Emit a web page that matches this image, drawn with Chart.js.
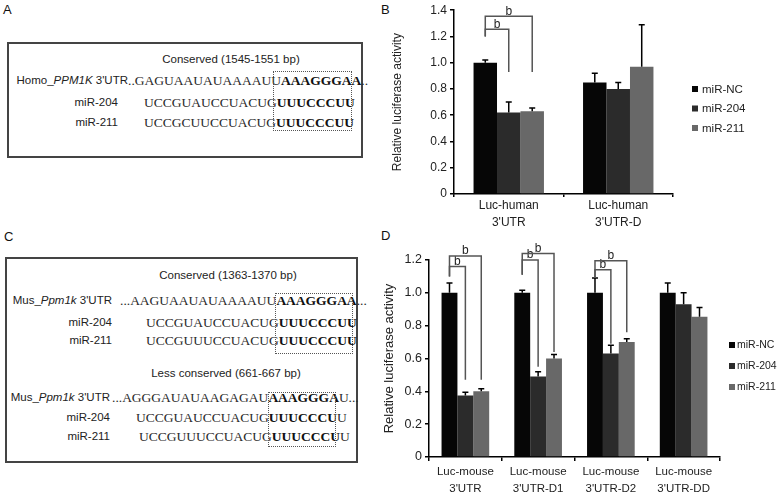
<!DOCTYPE html>
<html>
<head>
<meta charset="utf-8">
<script src="https://cdn.jsdelivr.net/npm/chart.js@4"></script>
<style>
  body { margin: 0; background: #fff; }
  #fig { position: relative; width: 784px; height: 496px; overflow: hidden;
         font-family: "Liberation Sans", Arial, sans-serif; color: #222; }
  .t { position: absolute; white-space: nowrap; line-height: 1; }
  .lab { font-size: 11.5px; }
  .seq { font-family: "Liberation Serif", "Times New Roman", serif; font-size: 13.5px; color: #2a2a2a; }
  .seq b { color: #111; }
  .letter { font-size: 13px; color: #111; }
  .box { position: absolute; border: 2px solid #444; box-sizing: border-box; }
  .dot { position: absolute; border: 1.5px dotted #555; box-sizing: border-box; }
  canvas { position: absolute; }
</style>
</head>
<body>
<div id="fig">
  <!-- panel letters -->
  <div class="t letter" style="left:3px;top:3px">A</div>
  <div class="t letter" style="left:381px;top:3px">B</div>
  <div class="t letter" style="left:4px;top:230px">C</div>
  <div class="t letter" style="left:381px;top:229px">D</div>

  <!-- panel A -->
  <div class="box" style="left:7px;top:42px;width:356px;height:116px"></div>
  <div class="t lab" style="left:231px;top:54px;transform:translateX(-50%)">Conserved (1545-1551 bp)</div>
  <div class="t lab" style="right:656px;top:75px">Homo_<i>PPM1K</i> 3'UTR</div>
  <div class="t lab" style="right:666px;top:97px">miR-204</div>
  <div class="t lab" style="right:666px;top:117px">miR-211</div>
  <div class="t seq" style="left:128px;top:74px">..GAGUAAUAUAAAAUU<b>AAAGGGAA</b>..</div>
  <div class="t seq" style="left:144px;top:96px">UCCGUAUCCUACUG<b>UUUCCCUU</b></div>
  <div class="t seq" style="left:144px;top:116px">UCCGCUUCCUACUG<b>UUUCCCUU</b></div>
  <div class="dot" style="left:273px;top:71px;width:79px;height:60px"></div>

  <!-- panel C -->
  <div class="box" style="left:5px;top:257px;width:353px;height:206px"></div>
  <div class="t lab" style="left:228px;top:270px;transform:translateX(-50%)">Conserved (1363-1370 bp)</div>
  <div class="t lab" style="right:672px;top:295px">Mus_<i>Ppm1k</i> 3'UTR</div>
  <div class="t lab" style="right:672px;top:317px">miR-204</div>
  <div class="t lab" style="right:672px;top:335px">miR-211</div>
  <div class="t seq" style="left:120px;top:294px">...AAGUAAUAUAAAAUU<b>AAAGGGAA</b>...</div>
  <div class="t seq" style="left:146px;top:316px">UCCGUAUCCUACUG<b>UUUCCCUU</b></div>
  <div class="t seq" style="left:146px;top:334px">UCCGUUUCCUACUG<b>UUUCCCUU</b></div>
  <div class="dot" style="left:275px;top:293px;width:78px;height:61px"></div>
  <div class="t lab" style="left:226px;top:368px;transform:translateX(-50%)">Less conserved (661-667 bp)</div>
  <div class="t lab" style="right:674px;top:392px">Mus_<i>Ppm1k</i> 3'UTR</div>
  <div class="t lab" style="right:674px;top:412px">miR-204</div>
  <div class="t lab" style="right:674px;top:431px">miR-211</div>
  <div class="t seq" style="left:112px;top:391px">...AGGGAUAUAAGAGAU<b>AAAGGGA</b>U...</div>
  <div class="t seq" style="left:136px;top:411px">UCCGUAUCCUACUG<b>UUUCCCU</b>U</div>
  <div class="t seq" style="left:139px;top:430px">UCCGUUUCCUACUG<b>UUUCCCU</b>U</div>
  <div class="dot" style="left:268px;top:392px;width:68px;height:55px"></div>

  <canvas id="chartB" width="404" height="250" style="left:380px;top:0"></canvas>
  <canvas id="chartD" width="404" height="266" style="left:380px;top:230px"></canvas>
</div>

<script>
// shared series
const seriesNames = ["miR-NC", "miR-204", "miR-211"];
const seriesColors = ["#060606", "#2b2b2b", "#686868"];

// panel B - human constructs
const humanCategories = [["Luc-human", "3'UTR"], ["Luc-human", "3'UTR-D"]];
const humanNC = [1.0, 0.85];
const humanNCErr = [0.02, 0.07];
const human204 = [0.62, 0.80];
const human204Err = [0.08, 0.05];
const human211 = [0.63, 0.97];
const human211Err = [0.025, 0.32];
const humanTickLabels = ["0", "0.2", "0.4", "0.6", "0.8", "1.0", "1.2", "1.4"];
// brackets: [group, fromSeries, toSeries, top, leftEnd, rightEnd]
const humanBrackets = [
  [0, 0, 1, 1.255, 1.20, 0.93],
  [0, 0, 2, 1.354, 1.20, 0.93],
];

// panel D - mouse constructs
const mouseCategories = [["Luc-mouse", "3'UTR"], ["Luc-mouse", "3'UTR-D1"], ["Luc-mouse", "3'UTR-D2"], ["Luc-mouse", "3'UTR-DD"]];
const mouseNC = [1.0, 1.0, 1.0, 1.0];
const mouseNCErr = [0.06, 0.015, 0.09, 0.06];
const mouse204 = [0.375, 0.49, 0.63, 0.93];
const mouse204Err = [0.02, 0.03, 0.05, 0.07];
const mouse211 = [0.40, 0.60, 0.70, 0.855];
const mouse211Err = [0.015, 0.025, 0.02, 0.055];
const mouseTickLabels = ["0", "0.2", "0.4", "0.6", "0.8", "1.0", "1.2"];
const mouseBrackets = [
  [0, 0, 1, 1.16, 1.10, 0.47],
  [0, 0, 2, 1.225, 1.10, 0.47],
  [1, 0, 1, 1.20, 1.11, 0.55],
  [1, 0, 2, 1.24, 1.11, 0.64],
  [2, 0, 1, 1.14, 1.09, 0.69],
  [2, 0, 2, 1.195, 1.09, 0.76],
];

// error bars, significance brackets and the legend
const annotate = {
  id: "annotate",
  afterDatasetsDraw(chart, args, opts) {
    const ctx = chart.ctx;
    const y = chart.scales.y;
    ctx.save();
    ctx.lineWidth = 1.5;
    ctx.strokeStyle = "#000";
    chart.data.datasets.forEach((ds, di) => {
      chart.getDatasetMeta(di).data.forEach((bar, i) => {
        const top = y.getPixelForValue(ds.data[i] + ds.err[i]);
        ctx.beginPath();
        ctx.moveTo(bar.x, bar.y);
        ctx.lineTo(bar.x, top);
        ctx.moveTo(bar.x - 3, top);
        ctx.lineTo(bar.x + 3, top);
        ctx.stroke();
      });
    });

    ctx.strokeStyle = "#555";
    ctx.fillStyle = "#222";
    ctx.font = "12px 'Liberation Sans', Arial";
    ctx.textAlign = "center";
    ctx.textBaseline = "bottom";
    opts.brackets.forEach(([g, a, b, top, l, r]) => {
      const xa = chart.getDatasetMeta(a).data[g].x;
      const xb = chart.getDatasetMeta(b).data[g].x;
      const yt = y.getPixelForValue(top);
      ctx.beginPath();
      ctx.moveTo(xa, y.getPixelForValue(l));
      ctx.lineTo(xa, yt);
      ctx.lineTo(xb, yt);
      ctx.lineTo(xb, y.getPixelForValue(r));
      ctx.stroke();
      ctx.fillText("b", (xa + xb) / 2, yt + 1);
    });

    const lg = opts.legend;
    ctx.font = lg.size + "px 'Liberation Sans', Arial";
    ctx.textAlign = "left";
    ctx.textBaseline = "middle";
    seriesNames.forEach((name, i) => {
      const cy = lg.y + i * lg.step;
      ctx.fillStyle = seriesColors[i];
      ctx.fillRect(lg.x, cy - 3, 6, 6);
      ctx.fillStyle = "#222";
      ctx.fillText(name, lg.x + lg.gap, cy + 0.5);
    });
    ctx.restore();
  },
};

function makeChart(id, cfg) {
  const datasets = [cfg.nc, cfg.m204, cfg.m211].map((vals, i) => ({
    label: seriesNames[i],
    data: vals,
    err: cfg.errs[i],
    backgroundColor: seriesColors[i],
    categoryPercentage: cfg.catPct,
    barPercentage: 1,
  }));
  return new Chart(document.getElementById(id), {
    type: "bar",
    data: { labels: cfg.labels, datasets },
    plugins: [annotate],
    options: {
      responsive: false,
      animation: false,
      layout: { padding: cfg.padding },
      plugins: {
        legend: { display: false },
        tooltip: { enabled: false },
        annotate: { brackets: cfg.brackets, legend: cfg.legend },
      },
      scales: {
        x: {
          ticks: { color: "#222", font: { size: cfg.xFont, lineHeight: cfg.xLine }, padding: cfg.xPad, maxRotation: 0, autoSkip: false },
          grid: { offset: true, drawOnChartArea: false, tickLength: cfg.xTick, color: "#000", lineWidth: 1.5 },
          border: { color: "#000", width: 1.5 },
          afterFit: (s) => { s.height = cfg.xHeight; },
        },
        y: {
          min: 0,
          max: cfg.max,
          ticks: {
            stepSize: 0.2, color: "#222", font: { size: cfg.yFont }, padding: 3,
            callback: (v) => cfg.tickLabels[Math.round(v / 0.2)],
          },
          grid: { drawOnChartArea: false, tickLength: 4, color: "#000", lineWidth: 1.5 },
          border: { color: "#000", width: 1.5 },
          title: { display: true, text: "Relative luciferase activity", color: "#222", font: { size: cfg.titleFont }, padding: { top: cfg.titlePad } },
          afterFit: (s) => { s.width = cfg.yWidth; },
        },
      },
    },
  });
}

makeChart("chartB", {
  labels: humanCategories,
  nc: humanNC, m204: human204, m211: human211,
  errs: [humanNCErr, human204Err, human211Err],
  tickLabels: humanTickLabels, brackets: humanBrackets,
  max: 1.4, catPct: 0.643,
  padding: { top: 10, right: 111, left: 0, bottom: 0 },
  yWidth: 74, xHeight: 56, xFont: 12, xLine: 1.42, xPad: 0, xTick: 3,
  yFont: 12, titleFont: 12, titlePad: 10,
  legend: { x: 312, y: 89, step: 19.5, gap: 10, size: 11.5 },
});

makeChart("chartD", {
  labels: mouseCategories,
  nc: mouseNC, m204: mouse204, m211: mouse211,
  errs: [mouseNCErr, mouse204Err, mouse211Err],
  tickLabels: mouseTickLabels, brackets: mouseBrackets,
  max: 1.2, catPct: 0.655,
  padding: { top: 30, right: 64, left: 0, bottom: 0 },
  yWidth: 49, xHeight: 39, xFont: 11.5, xLine: 1.48, xPad: 2, xTick: 4,
  yFont: 12.5, titleFont: 13, titlePad: 2,
  legend: { x: 349, y: 115, step: 21, gap: 8, size: 10.5 },
});
</script>
</body>
</html>
